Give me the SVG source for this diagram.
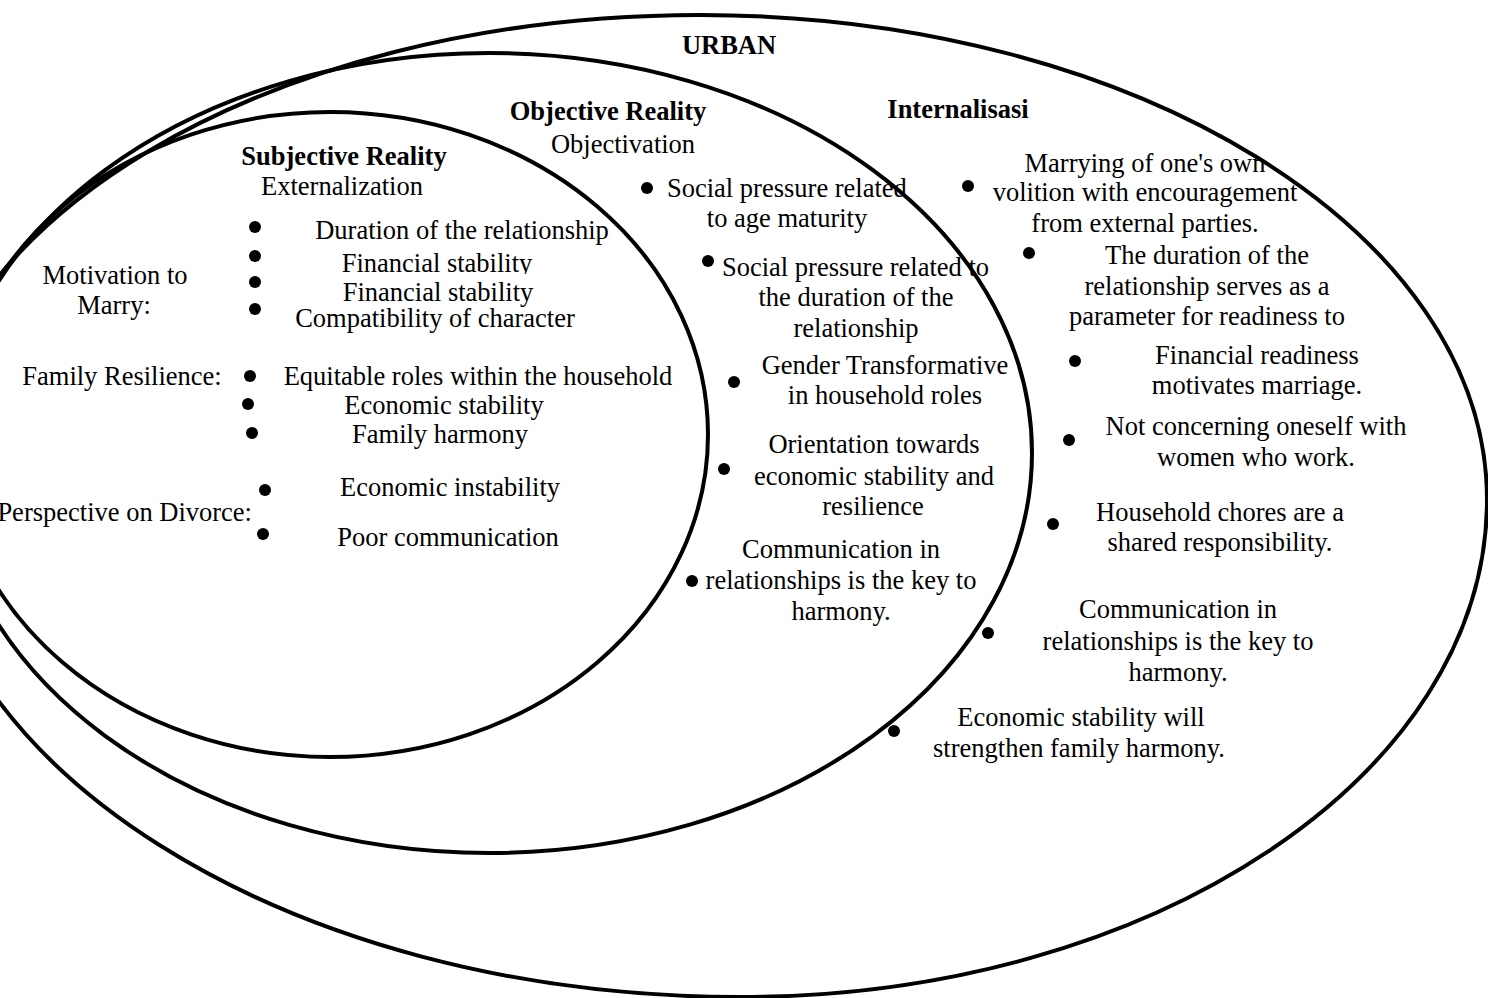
<svg xmlns="http://www.w3.org/2000/svg" width="1488" height="998" viewBox="0 0 1488 998">
<style>
.ring{fill:none;stroke:#000;stroke-width:4}
text{font-family:"Liberation Serif","Times New Roman",serif;font-size:26.5px;fill:#000}
.b{font-weight:bold}
.c{text-anchor:middle}
.e{text-anchor:end}
.dot{fill:#000}
</style>
<defs>
<clipPath id="clipFin"><rect x="300" y="240" width="280" height="34"/></clipPath>
</defs>
<rect width="1488" height="998" fill="#fff"/>
<g id="rings">
<path id="urban-ring" class="ring" d="M700,15 C1134.7,15 1487,232.1 1487,500 C1487,774.5 1152.6,997 740,997 C287.1,997 -80,765.5 -80,480 C-80,223.2 269.2,15 700,15 Z"/>
<ellipse id="objective-ring" class="ring" cx="489" cy="453" rx="543" ry="400"/>
<ellipse id="subjective-ring" class="ring" cx="330" cy="434.5" rx="378" ry="322.5"/>
</g>
<g id="connectors"></g>
<g id="urban-title"><text class="b c" x="729" y="54">URBAN</text></g>
<g id="subjective">
<text class="b c" x="344" y="165">Subjective Reality</text>
<text class="c" x="342" y="195">Externalization</text>
<circle class="dot" cx="255" cy="227" r="6"/>
<circle class="dot" cx="255" cy="256" r="6"/>
<circle class="dot" cx="255" cy="282" r="6"/>
<circle class="dot" cx="255" cy="309" r="6"/>
<text class="c" x="462" y="239">Duration of the relationship</text>
<text class="c" x="437" y="272" clip-path="url(#clipFin)">Financial stability</text>
<text class="c" x="438" y="301">Financial stability</text>
<text class="c" x="435" y="327">Compatibility of character</text>
<text class="c" x="115" y="284">Motivation to</text>
<text class="c" x="114" y="314">Marry:</text>
<text class="c" x="122" y="385">Family Resilience:</text>
<circle class="dot" cx="250" cy="376" r="6"/>
<circle class="dot" cx="248" cy="404" r="6"/>
<circle class="dot" cx="252" cy="433" r="6"/>
<text class="c" x="478" y="385">Equitable roles within the household</text>
<text class="c" x="444" y="414">Economic stability</text>
<text class="c" x="440" y="443">Family harmony</text>
<text class="e" x="252" y="521">Perspective on Divorce:</text>
<circle class="dot" cx="265" cy="490" r="6"/>
<circle class="dot" cx="263" cy="534" r="6"/>
<text class="c" x="450" y="496">Economic instability</text>
<text class="c" x="448" y="546">Poor communication</text>
</g>
<g id="objective">
<text class="b c" x="608" y="120">Objective Reality</text>
<text class="c" x="623" y="153">Objectivation</text>
<circle class="dot" cx="647" cy="188" r="6"/>
<text x="667" y="197">Social pressure related</text>
<text class="c" x="787" y="227">to age maturity</text>
<circle class="dot" cx="708" cy="261" r="6"/>
<text x="722" y="276">Social pressure related to</text>
<text class="c" x="856" y="306">the duration of the</text>
<text class="c" x="856" y="337">relationship</text>
<circle class="dot" cx="734" cy="382" r="6"/>
<text class="c" x="885" y="374">Gender Transformative</text>
<text class="c" x="885" y="404">in household roles</text>
<circle class="dot" cx="724" cy="469" r="6"/>
<text class="c" x="874" y="453">Orientation towards</text>
<text class="c" x="874" y="485">economic stability and</text>
<text class="c" x="873" y="515">resilience</text>
<text class="c" x="841" y="558">Communication in</text>
<circle class="dot" cx="692" cy="581" r="6"/>
<text class="c" x="841" y="589">relationships is the key to</text>
<text class="c" x="841" y="620">harmony.</text>
</g>
<g id="internalisasi">
<text class="b c" x="958" y="118">Internalisasi</text>
<circle class="dot" cx="968" cy="186" r="6"/>
<text class="c" x="1145" y="172">Marrying of one's own</text>
<text class="c" x="1145" y="201">volition with encouragement</text>
<text class="c" x="1145" y="232">from external parties.</text>
<circle class="dot" cx="1029" cy="253" r="6"/>
<text class="c" x="1207" y="264">The duration of the</text>
<text class="c" x="1207" y="295">relationship serves as a</text>
<text class="c" x="1207" y="325">parameter for readiness to</text>
<circle class="dot" cx="1075" cy="361" r="6"/>
<text class="c" x="1257" y="364">Financial readiness</text>
<text class="c" x="1257" y="394">motivates marriage.</text>
<circle class="dot" cx="1069" cy="440" r="6"/>
<text class="c" x="1256" y="435">Not concerning oneself with</text>
<text class="c" x="1256" y="466">women who work.</text>
<circle class="dot" cx="1053" cy="524" r="6"/>
<text class="c" x="1220" y="521">Household chores are a</text>
<text class="c" x="1220" y="551">shared responsibility.</text>
<text class="c" x="1178" y="618">Communication in</text>
<circle class="dot" cx="988" cy="633" r="6"/>
<text class="c" x="1178" y="650">relationships is the key to</text>
<text class="c" x="1178" y="681">harmony.</text>
<circle class="dot" cx="894" cy="731" r="6"/>
<text class="c" x="1081" y="726">Economic stability will</text>
<text class="c" x="1079" y="757">strengthen family harmony.</text>
</g>
</svg>
